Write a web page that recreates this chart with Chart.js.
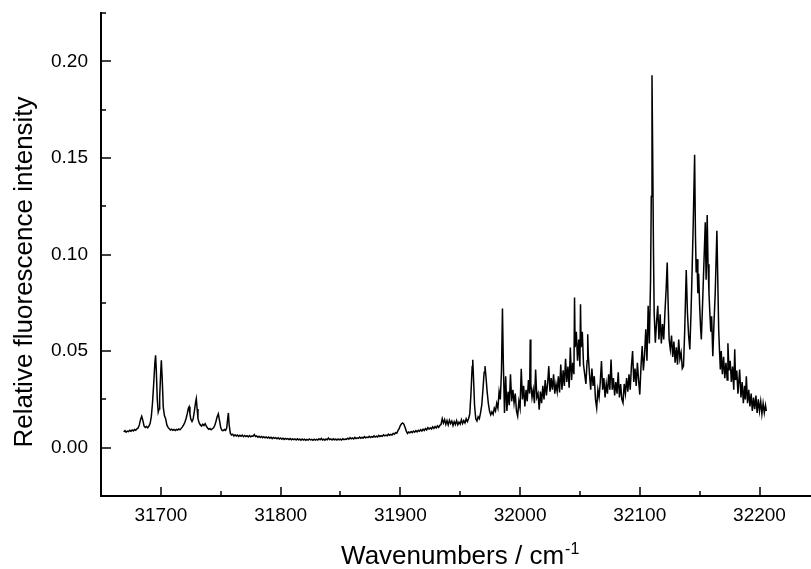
<!DOCTYPE html>
<html>
<head>
<meta charset="utf-8">
<script src="https://cdn.jsdelivr.net/npm/chart.js@4.4.1/dist/chart.umd.min.js"></script>
<style>
  html, body { margin: 0; padding: 0; background: #fff; overflow: hidden; }
  #wrap { width: 811px; height: 569px; }
</style>
</head>
<body>
<div id="wrap"><canvas id="spectrum"></canvas></div>
<script>
// axis ticks (major every 100 cm-1 / 0.05, minor half way)
const xTicks = [31700, 31750, 31800, 31850, 31900, 31950, 32000, 32050, 32100, 32150, 32200];
const yTicks = [0, 0.025, 0.05, 0.075, 0.10, 0.125, 0.15, 0.175, 0.20, 0.225];
const xTitle = 'Wavenumbers / cm';
const xTitleSup = '-1';
const yTitle = 'Relative fluorescence intensity';

// spectrum: [wavenumber, relative intensity]
const leftBands = [
  [31669, 0.0082], [31670, 0.0088], [31671, 0.0080], [31672, 0.0086], [31673, 0.0083],
  [31674, 0.0090], [31675, 0.0085], [31676, 0.0092], [31677, 0.0087], [31678, 0.0094],
  [31679, 0.0090], [31680, 0.0098], [31681, 0.0102], [31682, 0.0118], [31683, 0.0145],
  [31684, 0.0163], [31685, 0.0140], [31686, 0.0112], [31687, 0.0105], [31688, 0.0110],
  [31689, 0.0103], [31690, 0.0112], [31691, 0.0125], [31692, 0.0160], [31693, 0.0230],
  [31694, 0.0330], [31695, 0.0440], [31695.6, 0.0478], [31696.2, 0.0400], [31697, 0.0250],
  [31697.8, 0.0185], [31698.5, 0.0200], [31699, 0.0260], [31699.8, 0.0380], [31700.4, 0.0452],
  [31701.1, 0.0360], [31702, 0.0210], [31703, 0.0165], [31704, 0.0150], [31705, 0.0118],
  [31706, 0.0105], [31707, 0.0098], [31708, 0.0092], [31709, 0.0096], [31710, 0.0090],
  [31711, 0.0094], [31712, 0.0089], [31713, 0.0095], [31714, 0.0091], [31715, 0.0097],
  [31716, 0.0093], [31717, 0.0100], [31718, 0.0108], [31719, 0.0118], [31720, 0.0130],
  [31721, 0.0150], [31722, 0.0175], [31723, 0.0205], [31723.6, 0.0212], [31724.3, 0.0175],
  [31725, 0.0148], [31726, 0.0136], [31727, 0.0150], [31728, 0.0190], [31729, 0.0235],
  [31729.6, 0.0254], [31730.3, 0.0200], [31731, 0.0150], [31732, 0.0128], [31733, 0.0118],
  [31734, 0.0112], [31735, 0.0122], [31736, 0.0115], [31737, 0.0124], [31738, 0.0112],
  [31739, 0.0102], [31740, 0.0095], [31741, 0.0099], [31742, 0.0093], [31743, 0.0098],
  [31744, 0.0103], [31745, 0.0115], [31746, 0.0135], [31747, 0.0160], [31748, 0.0175],
  [31749, 0.0140], [31750, 0.0105], [31751, 0.0090], [31752, 0.0088], [31753, 0.0094],
  [31754, 0.0090], [31755, 0.0102], [31755.8, 0.0150], [31756.4, 0.0180], [31757, 0.0120],
  [31758, 0.0075], [31759, 0.0066], [31760, 0.0070]
];

const baseline = [
  [31761, 0.0060], [31762, 0.0067], [31763, 0.0061], [31764, 0.0066], [31765, 0.0058],
  [31766, 0.0064], [31767, 0.0059], [31768, 0.0065], [31769, 0.0057], [31770, 0.0063],
  [31771, 0.0058], [31772, 0.0062], [31773, 0.0056], [31774, 0.0063], [31775, 0.0057],
  [31776, 0.0061], [31777, 0.0060], [31778, 0.0068], [31779, 0.0058], [31780, 0.0061],
  [31781, 0.0054], [31782, 0.0059], [31783, 0.0053], [31784, 0.0058], [31785, 0.0052],
  [31786, 0.0057], [31787, 0.0051], [31788, 0.0056], [31789, 0.0050], [31790, 0.0055],
  [31791, 0.0049], [31792, 0.0054], [31793, 0.0047], [31794, 0.0053], [31795, 0.0048],
  [31796, 0.0052], [31797, 0.0046], [31798, 0.0051], [31799, 0.0045], [31800, 0.0050],
  [31801, 0.0044], [31802, 0.0049], [31803, 0.0043], [31804, 0.0048], [31805, 0.0044],
  [31806, 0.0047], [31807, 0.0042], [31808, 0.0047], [31809, 0.0041], [31810, 0.0046],
  [31811, 0.0042], [31812, 0.0045], [31813, 0.0040], [31814, 0.0046], [31815, 0.0041],
  [31816, 0.0044], [31817, 0.0039], [31818, 0.0045], [31819, 0.0040], [31820, 0.0044],
  [31821, 0.0038], [31822, 0.0043], [31823, 0.0039], [31824, 0.0045], [31825, 0.0040],
  [31826, 0.0043], [31827, 0.0038], [31828, 0.0044], [31829, 0.0039], [31830, 0.0043],
  [31831, 0.0040], [31832, 0.0046], [31833, 0.0041], [31834, 0.0048], [31835, 0.0040],
  [31836, 0.0044], [31837, 0.0039], [31838, 0.0045], [31839, 0.0041], [31840, 0.0050],
  [31841, 0.0042], [31842, 0.0045], [31843, 0.0040], [31844, 0.0046], [31845, 0.0041],
  [31846, 0.0044], [31847, 0.0040], [31848, 0.0045], [31849, 0.0041], [31850, 0.0044],
  [31851, 0.0040], [31852, 0.0046], [31853, 0.0042], [31854, 0.0045], [31855, 0.0043],
  [31856, 0.0049], [31857, 0.0044], [31858, 0.0052], [31859, 0.0046], [31860, 0.0050],
  [31861, 0.0045], [31862, 0.0053], [31863, 0.0047], [31864, 0.0051], [31865, 0.0048],
  [31866, 0.0055], [31867, 0.0049], [31868, 0.0053], [31869, 0.0050], [31870, 0.0057],
  [31871, 0.0051], [31872, 0.0055], [31873, 0.0052], [31874, 0.0059], [31875, 0.0053],
  [31876, 0.0057], [31877, 0.0054], [31878, 0.0061], [31879, 0.0055], [31880, 0.0060],
  [31881, 0.0056], [31882, 0.0064], [31883, 0.0058], [31884, 0.0062], [31885, 0.0059],
  [31886, 0.0067], [31887, 0.0061], [31888, 0.0065], [31889, 0.0062], [31890, 0.0070],
  [31891, 0.0064], [31892, 0.0069], [31893, 0.0066], [31894, 0.0074], [31895, 0.0070],
  [31896, 0.0078], [31897, 0.0075], [31898, 0.0088], [31899, 0.0098], [31900, 0.0115],
  [31901, 0.0124], [31902, 0.0128], [31903, 0.0121], [31904, 0.0104], [31905, 0.0086],
  [31906, 0.0074], [31907, 0.0081], [31908, 0.0077], [31909, 0.0084], [31910, 0.0078],
  [31911, 0.0086], [31912, 0.0080], [31913, 0.0088], [31914, 0.0082], [31915, 0.0090],
  [31916, 0.0085], [31917, 0.0093], [31918, 0.0086], [31919, 0.0096], [31920, 0.0089],
  [31921, 0.0099], [31922, 0.0092], [31923, 0.0104], [31924, 0.0096], [31925, 0.0103],
  [31926, 0.0097], [31927, 0.0108], [31928, 0.0100], [31929, 0.0110], [31930, 0.0102],
  [31931, 0.0113], [31932, 0.0105], [31933, 0.0116], [31934, 0.0120], [31935, 0.0150],
  [31936, 0.0128], [31937, 0.0145], [31938, 0.0120], [31939, 0.0140], [31940, 0.0118],
  [31941, 0.0142], [31942, 0.0125], [31943, 0.0138], [31944, 0.0115], [31945, 0.0135],
  [31946, 0.0120], [31947, 0.0140], [31948, 0.0118], [31949, 0.0132], [31950, 0.0122],
  [31951, 0.0145], [31952, 0.0125], [31953, 0.0140], [31954, 0.0128], [31955, 0.0150],
  [31956, 0.0135], [31957, 0.0150], [31958, 0.0175]
];

const risingEdge = [
  [31959, 0.0280], [31960, 0.0420], [31960.5, 0.0455], [31961, 0.0380], [31962, 0.0220],
  [31963, 0.0150], [31964, 0.0138], [31965, 0.0160], [31966, 0.0150], [31967, 0.0180],
  [31968, 0.0220], [31969, 0.0300], [31970, 0.0390], [31970.7, 0.0422], [31971.5, 0.0370],
  [31972.5, 0.0290], [31973.5, 0.0230], [31974.5, 0.0190], [31975.5, 0.0170], [31976.5, 0.0185],
  [31977.5, 0.0172], [31978.5, 0.0205], [31979.5, 0.0190], [31980.5, 0.0230], [31981.5, 0.0205],
  [31982.5, 0.0290], [31983.5, 0.0250], [31984.5, 0.0400], [31985.3, 0.0720], [31986, 0.0450],
  [31987, 0.0180], [31988, 0.0370], [31989, 0.0190], [31990, 0.0290], [31991, 0.0220],
  [31992, 0.0380], [31993, 0.0240], [31994, 0.0300], [31995, 0.0230], [31996, 0.0280],
  [31997, 0.0190], [31998, 0.0163], [31999, 0.0240], [32000, 0.0205], [32001, 0.0409],
  [32002, 0.0250], [32003, 0.0320], [32004, 0.0214], [32005, 0.0300], [32006, 0.0240],
  [32007, 0.0350], [32008, 0.0280], [32008.5, 0.0560], [32009, 0.0330], [32010, 0.0260],
  [32011, 0.0300], [32012, 0.0230], [32013, 0.0405], [32014, 0.0260], [32015, 0.0280],
  [32016, 0.0197], [32017, 0.0290], [32018, 0.0230], [32019, 0.0320], [32020, 0.0250],
  [32021, 0.0350], [32022, 0.0270], [32023, 0.0330], [32024, 0.0422], [32025, 0.0290],
  [32026, 0.0360], [32027, 0.0300], [32028, 0.0380], [32029, 0.0280], [32030, 0.0330],
  [32031, 0.0290], [32032, 0.0370], [32033, 0.0286], [32034, 0.0431], [32035, 0.0300],
  [32036, 0.0400], [32037, 0.0320], [32038, 0.0460], [32039, 0.0340], [32040, 0.0420],
  [32041, 0.0310], [32042, 0.0518], [32043, 0.0350], [32044, 0.0440], [32045, 0.0380],
  [32045.5, 0.0777], [32046, 0.0520], [32047, 0.0600], [32048, 0.0450], [32049, 0.0560],
  [32050, 0.0420], [32050.5, 0.0742], [32051, 0.0520], [32052, 0.0600], [32053, 0.0430],
  [32054, 0.0380], [32055, 0.0330], [32056, 0.0450], [32056.5, 0.0587], [32057, 0.0480],
  [32058, 0.0380], [32059, 0.0300], [32060, 0.0410], [32061, 0.0320], [32062, 0.0370],
  [32063, 0.0250], [32064, 0.0206], [32065, 0.0300], [32066, 0.0260], [32067, 0.0340],
  [32068, 0.0448], [32069, 0.0300], [32070, 0.0360], [32071, 0.0260], [32072, 0.0330],
  [32073, 0.0280], [32074, 0.0380], [32075, 0.0300], [32076, 0.0457], [32077, 0.0300],
  [32078, 0.0360], [32079, 0.0270], [32080, 0.0340], [32081, 0.0280], [32082, 0.0390],
  [32083, 0.0260], [32084, 0.0330], [32085, 0.0250], [32086, 0.0232], [32087, 0.0330],
  [32088, 0.0280], [32089, 0.0360], [32090, 0.0290], [32091, 0.0380], [32092, 0.0300],
  [32093, 0.0420], [32094, 0.0500], [32095, 0.0340], [32096, 0.0410], [32097, 0.0320],
  [32098, 0.0440], [32099, 0.0350], [32100, 0.0275], [32101, 0.0420], [32102, 0.0526],
  [32103, 0.0400], [32104, 0.0480], [32105, 0.0613], [32106, 0.0450], [32107, 0.0734],
  [32108, 0.0540], [32109, 0.0870]
];

const mainBand = [
  [32109.6, 0.1300], [32110.2, 0.1928], [32110.8, 0.1500], [32111.4, 0.1045], [32112, 0.0700],
  [32113, 0.0544], [32114, 0.0650], [32115, 0.0734], [32116, 0.0560], [32117, 0.0691],
  [32118, 0.0540], [32119, 0.0640], [32120, 0.0560], [32121, 0.0700], [32122, 0.0820],
  [32122.9, 0.0959], [32123.6, 0.0768], [32124.5, 0.0560], [32125.5, 0.0509], [32126.5, 0.0580],
  [32127.5, 0.0470], [32128.5, 0.0550], [32129.5, 0.0440], [32130.5, 0.0520], [32131.5, 0.0430],
  [32132.5, 0.0560], [32133.5, 0.0460], [32134.5, 0.0492], [32135.5, 0.0410], [32136.5, 0.0422],
  [32137.5, 0.0600], [32138.8, 0.0920], [32139.8, 0.0700], [32140.8, 0.0580], [32141.8, 0.0509],
  [32142.8, 0.0700], [32143.8, 0.0941], [32144.6, 0.1149], [32145.8, 0.1516], [32146.5, 0.1100],
  [32147.1, 0.0907], [32147.8, 0.0976], [32148.5, 0.0800], [32149.2, 0.0900], [32150, 0.0734],
  [32150.8, 0.0620], [32151.4, 0.0560], [32152.2, 0.0700], [32153, 0.0850], [32153.8, 0.1000],
  [32154.7, 0.1167], [32155.4, 0.0870], [32156.3, 0.1205], [32157, 0.0950], [32157.8, 0.0800],
  [32158.5, 0.0700], [32159.3, 0.0600], [32160, 0.0680], [32161, 0.0474], [32162, 0.0650],
  [32163, 0.0800], [32164.4, 0.1123], [32165.2, 0.0850], [32165.9, 0.0613], [32166.6, 0.0500],
  [32167.3, 0.0405], [32168, 0.0500], [32169, 0.0380], [32170, 0.0470], [32171, 0.0360],
  [32172, 0.0440], [32173, 0.0350], [32173.6, 0.0540], [32174.5, 0.0400], [32175.5, 0.0450],
  [32176.5, 0.0340], [32177.5, 0.0420], [32178.5, 0.0300], [32179.3, 0.0510], [32180, 0.0350],
  [32181, 0.0400], [32182, 0.0280], [32183.4, 0.0405], [32184.5, 0.0260], [32185.5, 0.0340],
  [32186.5, 0.0230], [32187.5, 0.0320], [32188.2, 0.0250], [32189, 0.0370], [32190, 0.0230],
  [32191, 0.0300], [32192, 0.0214], [32193, 0.0280], [32194, 0.0190], [32195, 0.0260],
  [32196, 0.0200], [32197, 0.0270], [32198, 0.0180], [32199, 0.0250], [32200, 0.0190],
  [32201, 0.0240], [32202, 0.0175], [32203, 0.0230], [32204, 0.0180], [32205, 0.0220],
  [32205.7, 0.0190]
];

const spectrum = [...leftBands, ...baseline, ...risingEdge, ...mainBand];

const FONT = "'Liberation Sans', Arial, sans-serif";
Chart.defaults.font.family = FONT;
Chart.defaults.color = '#000';

const isMajor = (v, step) => Math.abs(v / step - Math.round(v / step)) < 1e-6;

// ticks point into the plot area, plus the two axis titles
const frameDecor = {
  id: 'frameDecor',
  afterDraw(chart) {
    const {ctx, chartArea: a, scales: {x, y}} = chart;
    ctx.save();
    ctx.strokeStyle = '#000';
    ctx.lineWidth = 1.5;
    ctx.beginPath();
    xTicks.forEach(v => {
      const px = Math.round(x.getPixelForValue(v));
      const len = isMajor(v, 100) ? 9 : 5;
      ctx.moveTo(px, a.bottom);
      ctx.lineTo(px, a.bottom - len);
    });
    yTicks.forEach(v => {
      const py = Math.round(y.getPixelForValue(v));
      const len = isMajor(v, 0.05) ? 10 : 5;
      ctx.moveTo(a.left, py);
      ctx.lineTo(a.left + len, py);
    });
    ctx.stroke();

    ctx.fillStyle = '#000';
    ctx.textBaseline = 'alphabetic';

    // x title with superscript
    ctx.font = '26px ' + FONT;
    const mainW = ctx.measureText(xTitle).width;
    ctx.font = '16px ' + FONT;
    const supW = ctx.measureText(xTitleSup).width;
    const cx = (x.getPixelForValue(31650) + x.getPixelForValue(32250)) / 2;
    const startX = cx - (mainW + supW + 1) / 2;
    ctx.textAlign = 'left';
    ctx.font = '26px ' + FONT;
    ctx.fillText(xTitle, startX, 564);
    ctx.font = '16px ' + FONT;
    ctx.fillText(xTitleSup, startX + mainW + 1, 554);

    // y title, rotated
    ctx.translate(32, 272);
    ctx.rotate(-Math.PI / 2);
    ctx.textAlign = 'center';
    ctx.font = '26px ' + FONT;
    ctx.fillText(yTitle, 0, 0);
    ctx.restore();
  }
};

const ctx = document.getElementById('spectrum').getContext('2d');

new Chart(ctx, {
  type: 'line',
  data: {
    datasets: [{
      data: spectrum.map(p => ({x: p[0], y: p[1]})),
      borderColor: '#000',
      borderWidth: 1.5,
      pointRadius: 0,
      tension: 0,
      fill: false
    }]
  },
  options: {
    responsive: true,
    maintainAspectRatio: false,
    animation: false,
    layout: { padding: { top: 13, left: 0, right: 0, bottom: 0 } },
    plugins: {
      legend: { display: false },
      tooltip: { enabled: false }
    },
    scales: {
      x: {
        type: 'linear',
        min: 31650,
        max: 32243,
        grid: { display: false, drawTicks: false },
        border: { display: true, color: '#000', width: 2 },
        afterBuildTicks: s => { s.ticks = xTicks.map(v => ({value: v})); },
        afterFit: s => { s.height = 73; s.paddingLeft = 0; s.paddingRight = 0; },
        ticks: {
          autoSkip: false,
          maxRotation: 0,
          padding: 8,
          font: { size: 19 },
          color: '#000',
          callback: v => isMajor(v, 100) ? String(v) : ''
        }
      },
      y: {
        min: -0.025,
        max: 0.225,
        grid: { display: false, drawTicks: false },
        border: { display: true, color: '#000', width: 2 },
        afterBuildTicks: s => { s.ticks = yTicks.map(v => ({value: v})); },
        afterFit: s => { s.width = 101; s.paddingTop = 0; s.paddingBottom = 0; },
        ticks: {
          autoSkip: false,
          padding: 13,
          font: { size: 19 },
          color: '#000',
          callback: v => isMajor(v, 0.05) ? v.toFixed(2) : ''
        }
      }
    }
  },
  plugins: [frameDecor]
});
</script>
</body>
</html>
